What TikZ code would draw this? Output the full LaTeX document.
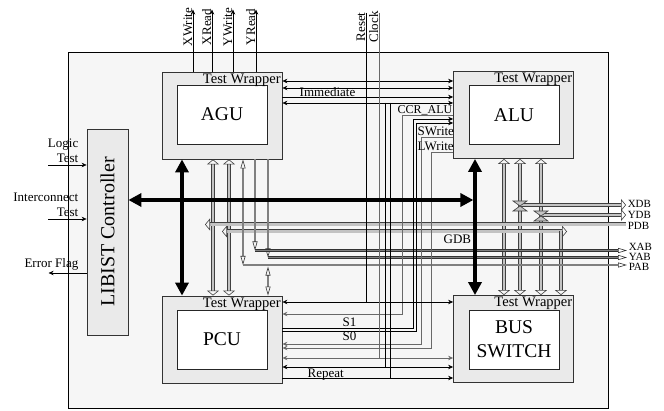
\documentclass[tikz,border=0pt]{standalone}
\usepackage{fontspec}
\setmainfont{Liberation Serif}
\usetikzlibrary{arrows.meta,positioning}
\definecolor{outerbg}{RGB}{246,246,246}
\definecolor{wrapbg}{RGB}{234,234,234}
\definecolor{busfill}{RGB}{195,195,195}
\definecolor{sigray}{RGB}{105,105,105}

\tikzset{
  bushd/.tip={Triangle[open,length=5pt,width=12pt]},
  abushd/.tip={Triangle[open,length=9pt,width=5pt]}
}

\begin{document}
\begin{tikzpicture}[x=1pt, y=-1pt, >={Stealth[length=5pt,width=4.5pt]},
  wrap/.style={rectangle, draw=black!80, fill=wrapbg, line width=.8pt,
    minimum width=120pt, minimum height=87pt, inner sep=0pt},
  core/.style={rectangle, draw=black!85, fill=white, line width=.8pt,
    minimum width=90pt, minimum height=59pt, align=center,
    font=\fontsize{19.5}{24}\selectfont},
  ctrl/.style={rectangle, draw=black!80, fill=wrapbg, line width=.8pt,
    minimum width=41pt, minimum height=206pt},
  twlab/.style={font=\fontsize{14.5}{16}\selectfont, inner sep=0pt, anchor=north east},
  lab/.style={font=\fontsize{13}{15.5}\selectfont, inner sep=.5pt},
  buslab/.style={font=\fontsize{11}{11}\selectfont, inner sep=0pt, anchor=west, xshift=1.5pt},
  sig/.style={line width=.6pt},
  sigg/.style={line width=.9pt, sigray},
  thickarr/.style={line width=3.5pt,
    {Triangle[length=13pt,width=13pt]}-{Triangle[length=13pt,width=13pt]}},
  wbus/.style={draw=black!75, line width=.6pt, double=busfill, double distance=2.8pt},
  abus/.style={draw=black!80, line width=.6pt, double=black!50, double distance=1.4pt},
  hglass/.style={draw=black!75, line width=.6pt, fill=busfill}
]
  \useasboundingbox (0,0) rectangle (664,411);
  \draw[fill=outerbg, line width=.6pt] (68,52) rectangle (608,408);

  % blocks
  \node[wrap] (aguw) at (222,115.5) {};
  \node[core] (agu) at (222,114.5) {AGU};
  \node[wrap] (aluw) at (513.5,115) {};
  \node[core] (alu) at (514,115) {ALU};
  \node[wrap] (pcuw) at (222,339.5) {};
  \node[core] (pcu) at (222,339.5) {PCU};
  \node[wrap] (busw) at (513.5,339) {};
  \node[core] (bus) at (514,339.5) {BUS\\SWITCH};
  \foreach \w in {aguw,aluw,pcuw,busw}
    \node[twlab] (tw-\w) at ([xshift=-1.5pt,yshift=-2pt]\w.north east) {Test Wrapper};

  \node[ctrl] (libist) at (107.5,232) {};
  \node[rotate=90, font=\fontsize{20}{22}\selectfont] (libtxt) at (libist) {LIBIST Controller};

  % buses
  \foreach \x in {213,229}
    \draw[wbus, bushd-bushd] (aguw.south -| \x,0) -- (pcuw.north -| \x,0);
  \foreach \x in {504,520,541}
    \draw[wbus, bushd-bushd] (aluw.south -| \x,0) -- (busw.north -| \x,0);
  \coordinate (gdbl) at (222,231.5);
  \coordinate (gdbr) at (567,231.5);
  \coordinate (gdbv) at (561,231.5);
  \draw[wbus, bushd-bushd] (gdbl) -- (gdbr);
  \draw[wbus, -bushd] (gdbv) -- (gdbv |- busw.north);
  \node[lab, anchor=base west] (gdb) at (443,243.5) {GDB};
  \coordinate (pdbl) at (205,224.5);
  \draw[wbus, bushd-] (pdbl) -- ++(421,0) node[buslab, yshift=-1pt] (pdb) {PDB};
  \coordinate (xdb) at (520,205);
  \coordinate (ydb) at (541,215);
  \draw[wbus, -bushd] (xdb) -- ++(106,0) node[buslab, yshift=1pt] (xdblab) {XDB};
  \draw[wbus, -bushd] (ydb) -- ++(85,0) node[buslab] (ydblab) {YDB};
  \foreach \c in {xdb,ydb}
    \draw[hglass] ([shift={(-7,-4)}]\c) -- ([shift={(7,-4)}]\c)
      -- ([shift={(-7,6)}]\c) -- ([shift={(7,6)}]\c) -- cycle;

  % address buses
  \coordinate (xab) at (255,250.5);
  \coordinate (yab) at (268,257.5);
  \coordinate (pab) at (243,265);
  \draw[abus, -abushd] (aguw.south -| xab) -- (xab);
  \draw[abus, -abushd] (aguw.south -| yab) -- (yab);
  \draw[abus, abushd-abushd] (aguw.south -| pab) -- (pab);
  \draw[abus, abushd-abushd] (pcuw.north -| yab) -- ++(0,-29);
  \draw[abus, -abushd] (xab) -- ++(372,0) node[buslab, yshift=3.5pt] (xablab) {XAB};
  \draw[abus, -abushd] (yab) -- ++(359,0) node[buslab, yshift=1pt] (yablab) {YAB};
  \draw[abus, -abushd] (pab) -- ++(384,0) node[buslab, yshift=-1.5pt] (pablab) {PAB};

  % AGU <-> ALU
  \draw[sig,<->] (aguw.east |- 0,81) -- (aluw.west |- 0,81);
  \draw[sig,<->] (aguw.east |- 0,88) -- (aluw.west |- 0,88);
  \draw[sig,->] (aguw.east |- 0,97) -- (aluw.west |- 0,97);
  \draw[sig,<->] (aguw.east |- 0,103) -- (aluw.west |- 0,103);
  \node[lab, anchor=base west] (imm) at (299,96.5) {Immediate};

  % ALU -> PCU, PCU -> ALU
  \draw[sigg,->] (aluw.west |- 0,115) -- ++(-50.5,0) |- (pcuw.east |- 0,314);
  \draw[sigg,->] (aluw.west |- 0,137) -- ++(-31.5,0) |- (pcuw.east |- 0,344);
  \draw[sigg,->] (aluw.west |- 0,152) -- ++(-21.5,0) |- (pcuw.east |- 0,348);
  \draw[sig,->] (pcuw.east |- 0,328) -- ++(131,0) |- (aluw.west |- 0,119);
  \draw[sig,->] (pcuw.east |- 0,331) -- ++(134,0) |- (aluw.west |- 0,123);
  \node[lab, anchor=base west, font=\fontsize{12}{14}\selectfont] (ccr) at (397,113.5) {CCR\_ALU};
  \node[lab, anchor=base west] (swr) at (417,135.5) {SWrite};
  \node[lab, anchor=base west] (lwr) at (417,150.5) {LWrite};
  \node[lab, anchor=base west] (s1) at (342,326.5) {S1};
  \node[lab, anchor=base west] (s0) at (342,340.5) {S0};
  \node[lab, anchor=base west] (rpt) at (307,377.5) {Repeat};

  % Reset, Clock and the lines to PCU / BUS SWITCH
  \coordinate (rst) at (366,13);
  \coordinate (clk) at (379,13);
  \coordinate (j1) at (385,103);
  \coordinate (j2) at (390,103);
  \draw[sig,->] (rst) |- (pcuw.east |- 0,302);
  \draw[sig,->] (rst) |- (busw.west |- 0,302);
  \draw[sigg,->] (clk) |- (pcuw.east |- 0,358);
  \draw[sigg,->] (clk) |- (busw.west |- 0,358);
  \draw[sig,->] (j1) |- (pcuw.east |- 0,367);
  \draw[sig,->] (j1) |- (busw.west |- 0,367);
  \draw[sig] (j2) |- (pcuw.east |- 0,378);
  \draw[sig,->] (j2) |- (busw.west |- 0,378);
  \node[lab, rotate=90, anchor=south] (rstlab) at (rst |- 0,27) {Reset};
  \node[lab, rotate=90, anchor=south] (clklab) at (clk |- 0,27) {Clock};

  % AGU control outputs
  \foreach \x/\s in {193/XWrite,212/XRead,233/YWrite,256/YRead}{
    \draw[sig,->] (aguw.north -| \x,0) -- ++(0,-62);
    \node[lab, rotate=90, anchor=south] (\s) at (\x,27) {\s};
  }

  % LIBIST controller pins
  \draw[sig,<-] (libist.west |- 0,165) -- ++(-39,0);
  \draw[sig,<-] (libist.west |- 0,219) -- ++(-39,0);
  \draw[sig,->] (libist.west |- 0,273) -- ++(-38,0);
  \node[lab, align=right, anchor=east] (lgc) at (79,151) {Logic\\Test};
  \node[lab, align=right, anchor=east] (ict) at (79,205) {Interconnect\\Test};
  \node[lab, anchor=east] (err) at (79,264) {Error Flag};

  % test access
  \draw[thickarr] (aguw.south -| 182,0) -- (pcuw.north -| 182,0);
  \draw[thickarr] (aluw.south -| 475,0) -- (busw.north -| 475,0);
  \draw[thickarr] (libist.east |- 0,200) -- ++(345,0);
\end{tikzpicture}
\end{document}
